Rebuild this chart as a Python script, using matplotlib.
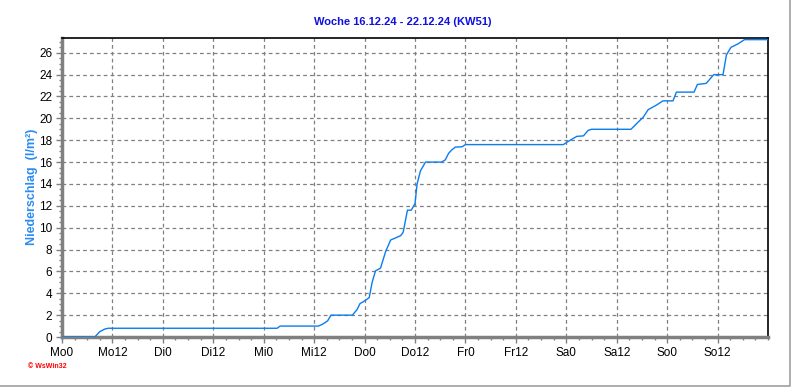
import matplotlib
matplotlib.use("Agg")
import matplotlib.pyplot as plt
from matplotlib.ticker import MultipleLocator, FixedLocator
from matplotlib.lines import Line2D

# ---- data (hours since Monday 0:00, cumulative precipitation l/m²) ----
hours = [0, 7.8, 9.0, 10.2, 11.0, 51.2, 51.9, 61.0, 62.0, 63.2, 64.0, 69.1,
         70.2, 70.9, 72.0, 73.1, 73.8, 74.6, 75.8, 77.0, 78.2, 80.6, 81.2,
         82.2, 83.1, 84.0, 84.5, 85.3, 86.5, 90.3, 91.2, 92.0, 92.7, 93.6,
         95.2, 96.0, 119.3, 120.5, 122.5, 124.1, 125.2, 126.0, 135.4, 137.1,
         138.3, 139.5, 141.4, 143.0, 145.4, 146.2, 150.4, 151.2, 153.3, 155.1,
         157.3, 158.1, 159.2, 160.8, 162.4, 168.0]
niederschlag = [0, 0, 0.49, 0.73, 0.8, 0.8, 1.0, 1.0, 1.17, 1.47, 2.0, 2.0,
                2.5, 3.05, 3.3, 3.6, 5.0, 6.05, 6.3, 7.8, 8.87, 9.27, 9.6,
                11.6, 11.6, 12.2, 14.0, 15.2, 16.0, 16.0, 16.2, 16.8, 17.1, 17.37,
                17.4, 17.6, 17.6, 17.9, 18.35, 18.4, 18.9, 19.0, 19.0, 19.66,
                20.1, 20.8, 21.2, 21.6, 21.6, 22.4, 22.4, 23.1, 23.2, 24.0,
                24.0, 25.8, 26.5, 26.8, 27.2, 27.2]

tick_hours = [0, 12, 24, 36, 48, 60, 72, 84, 96, 108, 120, 132, 144, 156]
tick_labels = ["Mo0", "Mo12", "Di0", "Di12", "Mi0", "Mi12", "Do0", "Do12",
               "Fr0", "Fr12", "Sa0", "Sa12", "So0", "So12"]
title = "Woche 16.12.24 - 22.12.24 (KW51)"
ylabel = "Niederschlag  (l/m²)"

plt.rcParams['font.family'] = ['Liberation Sans', 'DejaVu Sans']

W, H = 792, 387
fig = plt.figure(figsize=(W / 100, H / 100), dpi=100)
ax = fig.add_axes([62 / W, 1 - 337 / H, (768 - 62) / W, (337 - 38) / H])

ax.plot(hours, niederschlag, color="#0a7cf0", lw=1.0, zorder=3)

ax.set_xlim(0, 168)
ax.set_ylim(0, 27.35)

ax.xaxis.set_major_locator(FixedLocator(tick_hours))
ax.set_xticklabels(tick_labels)
ax.xaxis.set_minor_locator(MultipleLocator(3))
ax.yaxis.set_major_locator(MultipleLocator(2))
ax.yaxis.set_minor_locator(MultipleLocator(0.5))

ax.grid(True, which="major", color="#808080", linestyle=(0, (3, 2.5)), lw=0.9)

for s in ("left", "bottom"):
    ax.spines[s].set_color("#808080")
    ax.spines[s].set_linewidth(2.5)
for s in ("top", "right"):
    ax.spines[s].set_color("black")
    ax.spines[s].set_linewidth(1.2)

ax.tick_params(axis="both", which="major", length=4, width=1, color="#808080",
               labelsize=8.5, labelcolor="black", pad=3)
ax.tick_params(axis="both", which="minor", length=2.5, width=1, color="#808080")

fig.text(0.508, 1 - 22 / H, title, ha="center", va="center", color="#1010e0",
         fontsize=8, fontweight="bold")
fig.text(32 / W, 1 - 187 / H, ylabel, ha="center", va="center", rotation=90,
         color="#2b8cf0", fontsize=9, fontweight="bold")
fig.text(28 / W, 1 - 367 / H, "© WsWin32", ha="left", va="center", color="red",
         fontsize=5, fontweight="bold")

# window-like border on right and bottom
fig.add_artist(Line2D([0, 789.5 / W, 789.5 / W], [1 - 385.5 / H, 1 - 385.5 / H, 1],
                      transform=fig.transFigure, color="#a0a0a0", lw=1.2))

fig.savefig("out.png", dpi=100)
